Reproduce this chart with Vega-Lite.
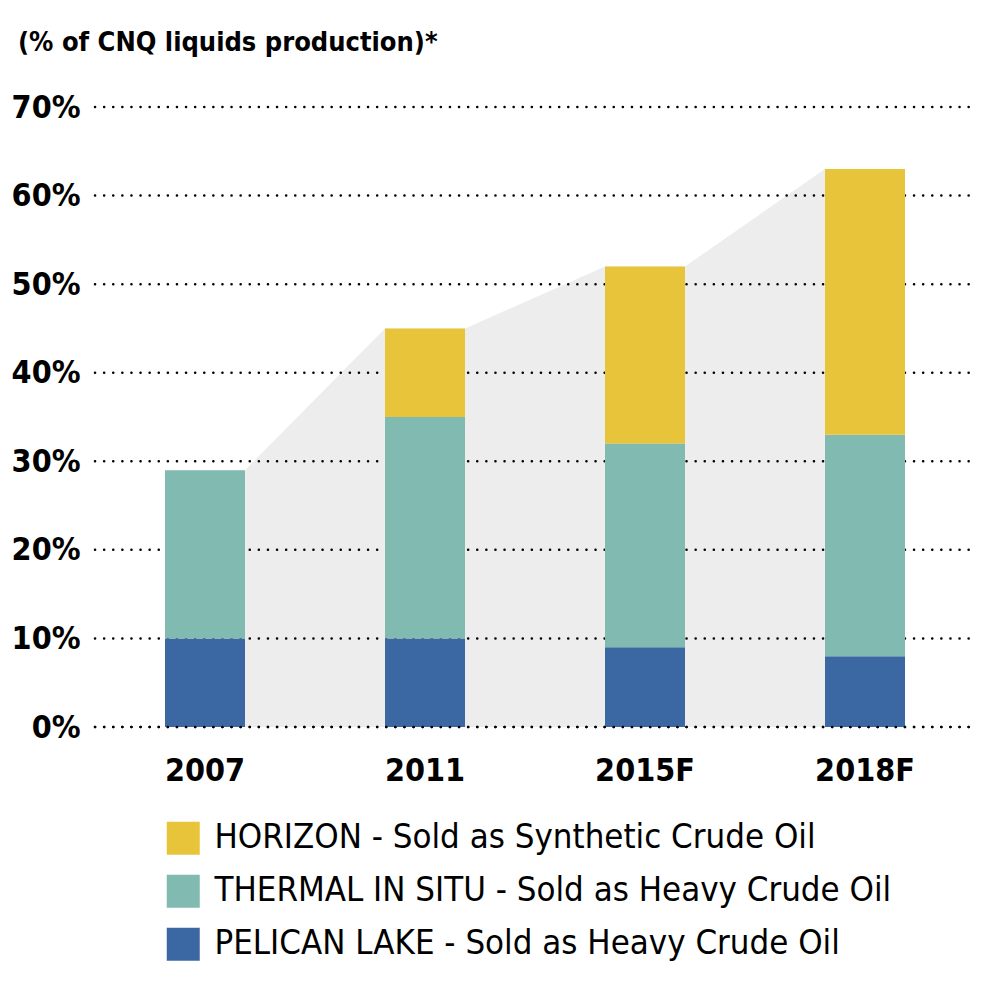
{
  "$schema": "https://vega.github.io/schema/vega-lite/v6.json",
  "autosize": {"type": "none"},
  "width": 880,
  "height": 620,
  "padding": {"left": 95, "top": 107, "right": 24, "bottom": 258},
  "background": "white",
  "config": {"view": {"stroke": null}},
  "title": {
    "text": "(% of CNQ liquids production)*",
    "anchor": "start",
    "frame": "group",
    "dx": -77,
    "offset": 34,
    "font": "DejaVu Sans Condensed, Liberation Sans Narrow, Roboto",
    "fontWeight": "bold",
    "fontSize": 27,
    "color": "#000000"
  },
  "datasets": {
    "bars": [
      {"year": "2007", "series": "PELICAN LAKE - Sold as Heavy Crude Oil", "value": 10},
      {"year": "2007", "series": "THERMAL IN SITU - Sold as Heavy Crude Oil", "value": 19},
      {"year": "2011", "series": "PELICAN LAKE - Sold as Heavy Crude Oil", "value": 10},
      {"year": "2011", "series": "THERMAL IN SITU - Sold as Heavy Crude Oil", "value": 25},
      {"year": "2011", "series": "HORIZON - Sold as Synthetic Crude Oil", "value": 10},
      {"year": "2015F", "series": "PELICAN LAKE - Sold as Heavy Crude Oil", "value": 9},
      {"year": "2015F", "series": "THERMAL IN SITU - Sold as Heavy Crude Oil", "value": 23},
      {"year": "2015F", "series": "HORIZON - Sold as Synthetic Crude Oil", "value": 20},
      {"year": "2018F", "series": "PELICAN LAKE - Sold as Heavy Crude Oil", "value": 8},
      {"year": "2018F", "series": "THERMAL IN SITU - Sold as Heavy Crude Oil", "value": 25},
      {"year": "2018F", "series": "HORIZON - Sold as Synthetic Crude Oil", "value": 30}
    ],
    "totals": [
      {"year": "2007", "edge": "right", "total": 29},
      {"year": "2011", "edge": "left", "total": 45},
      {"year": "2011", "edge": "right", "total": 45},
      {"year": "2015F", "edge": "left", "total": 52},
      {"year": "2015F", "edge": "right", "total": 52},
      {"year": "2018F", "edge": "left", "total": 63}
    ],
    "grid": [
      {"v": 0}, {"v": 10}, {"v": 20}, {"v": 30}, {"v": 40}, {"v": 50}, {"v": 60}, {"v": 70}
    ]
  },
  "encoding": {
    "x": {
      "field": "year",
      "type": "nominal",
      "sort": ["2007", "2011", "2015F", "2018F"],
      "scale": {"domain": ["2007", "2011", "2015F", "2018F"], "paddingInner": 0.6364, "paddingOuter": 0.3182},
      "axis": {
        "title": null,
        "domain": false,
        "ticks": false,
        "labelAngle": 0,
        "labelPadding": 28,
        "labelFont": "DejaVu Sans Condensed, Liberation Sans Narrow, Roboto",
        "labelFontWeight": "bold",
        "labelFontSize": 32,
        "labelColor": "#000000"
      }
    }
  },
  "layer": [
    {
      "data": {"name": "totals"},
      "mark": {"type": "area", "color": "#ededed", "opacity": 1},
      "encoding": {
        "xOffset": {"field": "edge", "type": "nominal", "scale": {"type": "point", "domain": ["left", "right"], "range": [0, 80], "padding": 0}},
        "y": {
          "field": "total",
          "type": "quantitative",
          "scale": {"domain": [0, 70], "nice": false},
          "axis": {
            "title": null,
            "grid": false,
            "domain": false,
            "ticks": false,
            "values": [0, 10, 20, 30, 40, 50, 60, 70],
            "labelExpr": "datum.value + '%'",
            "labelPadding": 15,
            "labelFont": "DejaVu Sans Condensed, Liberation Sans Narrow, Roboto",
            "labelFontWeight": "bold",
            "labelFontSize": 32,
            "labelColor": "#000000"
          }
        }
      }
    },
    {
      "data": {"name": "grid"},
      "mark": {"type": "rule", "color": "#000000", "strokeWidth": 2.5, "strokeDash": [0.1, 9], "strokeCap": "round"},
      "encoding": {"y": {"field": "v", "type": "quantitative"}, "x": {"value": 0}, "x2": {"value": 878}}
    },
    {
      "data": {"name": "bars"},
      "transform": [
        {"calculate": "indexof(['PELICAN LAKE - Sold as Heavy Crude Oil','THERMAL IN SITU - Sold as Heavy Crude Oil','HORIZON - Sold as Synthetic Crude Oil'], datum.series)", "as": "stackOrder"}
      ],
      "mark": {"type": "bar", "width": 80},
      "encoding": {
        "y": {"field": "value", "type": "quantitative", "stack": "zero"},
        "order": {"field": "stackOrder", "type": "quantitative", "sort": "ascending"},
        "color": {
          "field": "series",
          "type": "nominal",
          "scale": {
            "domain": ["HORIZON - Sold as Synthetic Crude Oil", "THERMAL IN SITU - Sold as Heavy Crude Oil", "PELICAN LAKE - Sold as Heavy Crude Oil"],
            "range": ["#e8c43a", "#80bab0", "#3b67a2"]
          },
          "legend": {
            "title": null,
            "orient": "none",
            "legendX": 71,
            "legendY": 714,
            "symbolType": "square",
            "symbolSize": 1089,
            "symbolStrokeWidth": 0,
            "symbolOpacity": 1,
            "labelFont": "DejaVu Sans Condensed, Liberation Sans Narrow, Roboto",
            "labelFontSize": 34.5,
            "labelColor": "#000000",
            "labelLimit": 900,
            "labelOffset": 14,
            "rowPadding": 18
          }
        }
      }
    },
    {
      "data": {"name": "grid"},
      "transform": [{"filter": "datum.v == 0"}],
      "mark": {"type": "rule", "color": "#000000", "strokeWidth": 2.5, "strokeDash": [0.1, 9], "strokeCap": "round"},
      "encoding": {"y": {"field": "v", "type": "quantitative"}, "x": {"value": 0}, "x2": {"value": 878}}
    }
  ]
}
